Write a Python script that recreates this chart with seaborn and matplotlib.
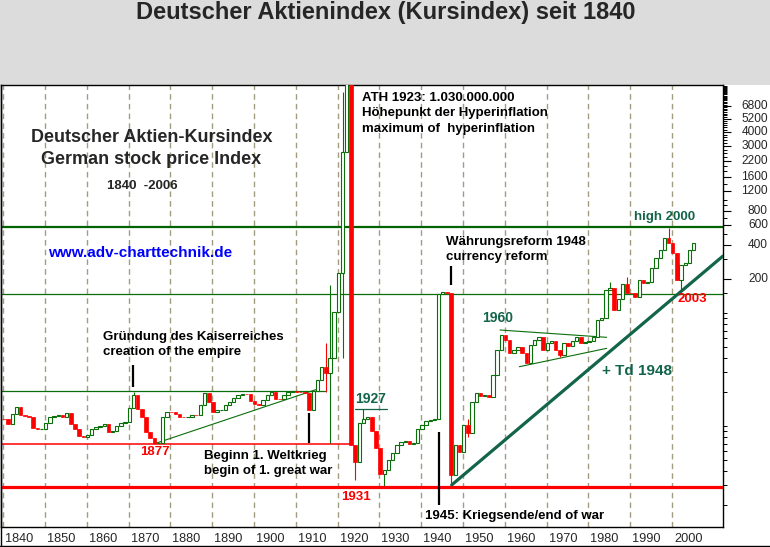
import matplotlib
matplotlib.use("Agg")
import numpy as np
import pandas as pd
import matplotlib.pyplot as plt
from matplotlib.transforms import ScaledTranslation
from matplotlib.patches import Rectangle
from matplotlib.lines import Line2D
from matplotlib.ticker import NullFormatter
import seaborn as sns

sns.set_style("white")
plt.rcParams['font.family'] = ['Liberation Sans', 'DejaVu Sans']

W, H, DPI = 770, 547, 100

# ---------------- data (annual candles, open = previous close) ----------------
years = list(range(1840, 2007))
first_open = 11.5
closes = [
    11.6, 11.5, 10.42, 12.77, 14.64, 12.52, 12.26, 12.09, 9.55, 9.41,        # 1840
    9.5, 10.70, 11.94, 12.26, 12.44, 12.09, 12.96, 10.42, 9.35, 8.16,        # 1850
    8.04, 8.33, 9.35, 9.86, 10.07, 10.42, 8.91, 9.09, 10.00, 10.57,          # 1860
    10.79, 14.35, 18.81, 14.06, 12.09, 8.91, 7.79, 7.03, 7.12, 12.09,        # 1870
    13.39, 13.3, 12.70, 12.09, 12.0, 12.1, 12.52, 12.5, 15.35, 19.48,        # 1880
    16.21, 13.39, 13.86, 13.9, 15.35, 16.41, 17.59, 18.81, 19.2, 19.1,       # 1890
    16.65, 15.57, 15.4, 16.99, 18.81, 20.12, 17.34, 17.3, 18.81, 20.12,      # 1900
    20.41, 20.1, 19.88, 19.48, 13.86, 20.41, 25.54, 33.49, 29.27, 39.74,     # 1910
    102.7, 224.6, 2676, 1.03e9, 6.79, 4.80, 10.70, 11.47, 12.09, 9.09,       # 1920
    6.35, 3.74, 4.08, 5.00, 5.80, 6.79, 7.27, 7.37, 7.00, 7.03,              # 1930
    9.35, 10.21, 11.15, 11.31, 11.47, 147.4, 153.5, 150.4, 3.69, 6.79,       # 1940
    5.89, 10.21, 8.62, 16.41, 19.48, 18.44, 18.81, 18.25, 28.27, 47.04,      # 1950
    63.9, 57.7, 44.0, 47.04, 50.34, 44.0, 35.89, 52.11, 57.7, 61.72,         # 1960
    47.04, 53.96, 56.88, 47.04, 42.51, 53.96, 51.06, 56.88, 61.72, 53.96,    # 1970
    55.41, 56.55, 61.34, 86.73, 89.78, 159.8, 165.4, 106.3, 132.3, 180.6,    # 1980
    151.3, 149.5, 139.5, 196.0, 183.2, 189.3, 250.1, 304.9, 361.1, 458.4,    # 1990
    414.0, 337.7, 196.0, 266.0, 275.3, 361.1, 419.1,                         # 2000
]
high_years = [1872, 1918, 1919, 1922, 1927, 1952, 1986, 1990, 2000]
high_values = [19.9, 54.3, 177, 9000, 14.1, 11.5, 189, 207, 570]
low_years = [1918, 1919, 1922, 1925, 1932, 1948, 1952, 1974, 2003]
low_values = [20.2, 7.08, 39.9, 3.33, 2.95, 3.13, 8.0, 40.8, 159.8]

y_tick_values = [200, 400, 600, 800, 1200, 1600, 2200, 3000, 4000, 5200, 6800]
x_tick_years = list(range(1840, 2001, 10))

# chart lines (x in years, y in index points)
level_low = 2.89
level_1948 = 147.4
level_high2000 = 577
support_1877_x, support_1877_y = [1839.45, 1922.94], [6.93, 6.93]
resist_x, resist_y = [1839.45, 1916.9], [20.4, 20.4]
rise_x, rise_y = [1876.3, 1915.3], [7.0, 21.3]
td_x, td_y = [1947.27, 2012.18], [3.01, 319.5]
flag_up_x, flag_up_y = [1958.83, 1984.35], [70.75, 60.97]
flag_lo_x, flag_lo_y = [1963.44, 1984.35], [33.49, 48.7]
l1927_x, l1927_y = [1924.14, 1931.87], [14.06, 14.06]
marker_x = [1871.0, 1913.1, 1944.23, 1947.1]
marker_lo = [22.1, 7.03, 2.0, 177]
marker_hi = [34.7, 12.96, 8.85, 260.6]

# ---------------- figure ----------------
GREEN = '#0a6e0a'
DKGREEN = '#006400'
RED = '#ff0000'
TEAL = '#12644a'
GRID = '#a29c80'
XMIN, XMAX = 1839.45, 2012.18
YMIN, YMAX = 1.278, 10422

fig = plt.figure(figsize=(W / DPI, H / DPI), dpi=DPI, facecolor='white')
fig.add_artist(Rectangle((0, 1 - 85 / H), 1, 85 / H, transform=fig.transFigure,
                         facecolor='#dcdcdc', edgecolor='none', zorder=-5))
ax = fig.add_axes([1 / W, 20 / H, 722 / W, 442 / H])
ax.set_facecolor('white')
ax.set_yscale('log')
ax.set_xlim(XMIN, XMAX)
ax.set_ylim(YMIN, YMAX)


def sline(xs, ys, color, lw, z, ls='-'):
    sns.lineplot(x=xs, y=ys, ax=ax, color=color, linewidth=lw, estimator=None,
                 sort=False, legend=False, zorder=z, linestyle=ls)


# dashed decade grid
for gx in x_tick_years:
    sline([gx, gx], [YMIN, YMAX], GRID, 1.0, 1, ls=(0, (4, 3)))

df = pd.DataFrame({'year': years, 'close': closes})
df['open'] = [first_open] + closes[:-1]
df['high'] = df[['open', 'close']].max(axis=1)
df['low'] = df[['open', 'close']].min(axis=1)
for yr, v in zip(high_years, high_values):
    m = df.year == yr
    df.loc[m, 'high'] = np.maximum(df.loc[m, 'high'], v)
for yr, v in zip(low_years, low_values):
    m = df.year == yr
    df.loc[m, 'low'] = np.minimum(df.loc[m, 'low'], v)
df['x'] = df.year - 0.85
up = df.close >= df.open

# reference lines
sline([XMIN, XMAX], [level_high2000] * 2, DKGREEN, 1.6, 1.5)
sline([XMIN, XMAX], [level_1948] * 2, GREEN, 0.9, 1.5)
sline(support_1877_x, support_1877_y, RED, 1.1, 1.5)
sline(resist_x, resist_y, GREEN, 0.9, 1.5)
sline(rise_x, rise_y, GREEN, 0.8, 1.5)
sline(flag_up_x, flag_up_y, GREEN, 0.8, 1.5)
sline(flag_lo_x, flag_lo_y, GREEN, 0.8, 1.5)
sline(l1927_x, l1927_y, TEAL, 0.9, 1.5)

# candles
ax.vlines(df.x[up], df.low[up], df.high[up], color=GREEN, lw=0.8, zorder=2)
ax.vlines(df.x[~up], df.low[~up], df.high[~up], color=RED, lw=0.8, zorder=2)
ax.bar(df.x[up], (df.close - df.open)[up], bottom=df.open[up], width=0.8,
       facecolor='white', edgecolor=GREEN, linewidth=0.8, zorder=3)
ax.bar(df.x[~up], (df.open - df.close)[~up], bottom=df.close[~up], width=0.85,
       facecolor=RED, edgecolor=RED, linewidth=0.5, zorder=3)

sline([XMIN, XMAX], [level_low] * 2, RED, 2.3, 4)
sline(td_x, td_y, TEAL, 2.3, 4)
ax.vlines(marker_x, marker_lo, marker_hi, color='black', lw=1.6, zorder=5)

ax.set_xlim(XMIN, XMAX)
ax.set_ylim(YMIN, YMAX)

# axes styling
for s in ax.spines.values():
    s.set_color('black')
    s.set_linewidth(1.0)
ax.set_xticks(x_tick_years, labels=[str(y) for y in x_tick_years])
ax.set_xticks([y for y in range(1841, 2007) if y % 10] + [2010], minor=True)
ax.tick_params(axis='x', which='major', length=13.7, width=0.8, pad=0,
               labelsize=9.2, direction='out', color='black')
ax.tick_params(axis='x', which='minor', length=3.4, width=0.7, direction='out',
               color='black')
ax.grid(False)

ax.yaxis.tick_right()
minor_y = ([v for v in range(1000, 10400, 200) if v not in y_tick_values] +
           [300, 500, 700, 900, 100, 150] +
           [k * 10 for k in range(1, 10)] + [k for k in range(2, 10)])
ax.set_yticks(y_tick_values, labels=[str(v) for v in y_tick_values])
ax.set_yticks(minor_y, minor=True)
ax.yaxis.set_minor_formatter(NullFormatter())
ax.tick_params(axis='y', which='major', length=5.8, width=0.8, pad=2,
               labelsize=8.6, direction='out', color='black')
ax.tick_params(axis='y', which='minor', length=3.2, width=0.7, direction='out',
               color='black')
ax.set_xlabel('')
ax.set_ylabel('')

# ---------------- texts (pixel positions) ----------------
def ftext(x, y, s, **kw):
    fig.text(x / W, 1 - y / H, s, va='center', **kw)

ftext(386, 12, 'Deutscher Aktienindex (Kursindex) seit 1840', ha='center',
      fontsize=17, fontweight='bold')
ftext(152, 138, 'Deutscher Aktien-Kursindex', ha='center', fontsize=13, fontweight='bold')
ftext(151, 159, 'German stock price Index', ha='center', fontsize=13, fontweight='bold')
ftext(142, 186, '1840  -2006', ha='center', fontsize=9.5, fontweight='bold')
ftext(140, 253, 'www.adv-charttechnik.de', ha='center', fontsize=11, fontweight='bold',
      color='#0000ff')
bk = dict(ha='left', fontsize=9.5, fontweight='bold', color='black')
ftext(362, 98, 'ATH 1923: 1.030.000.000', **bk)
ftext(362, 113, 'Höhepunkt der Hyperinflation', **bk)
ftext(362, 129, 'maximum of  hyperinflation', **bk)
ftext(446, 242, 'Währungsreform 1948', **bk)
ftext(446, 257, 'currency reform', **bk)
ftext(103, 337, 'Gründung des Kaiserreiches', **bk)
ftext(103, 352, 'creation of the empire', **bk)
ftext(204, 456, 'Beginn 1. Weltkrieg', **bk)
ftext(204, 471, 'begin of 1. great war', **bk)
ftext(425, 516, '1945: Kriegsende/end of war', **bk)
ftext(155, 452, '1877', ha='center', fontsize=9.5, fontweight='bold', color=RED)
ftext(356, 497, '1931', ha='center', fontsize=9.5, fontweight='bold', color=RED)
ftext(692, 299, '2003', ha='center', fontsize=9.5, fontweight='bold', color=RED)
ftext(371, 399, '1927', ha='center', fontsize=10, fontweight='bold', color=TEAL)
ftext(498, 318, '1960', ha='center', fontsize=10, fontweight='bold', color=TEAL)
ftext(665, 217, 'high 2000', ha='center', fontsize=9.5, fontweight='bold', color=TEAL)
ftext(602, 371, '+ Td 1948', ha='left', fontsize=11, fontweight='bold', color=TEAL)

# borders of the chart frame
fig.add_artist(Line2D([0, 1], [0.6 / H, 0.6 / H], transform=fig.transFigure,
                      color='black', lw=1.0))
fig.add_artist(Line2D([0.6 / W, 0.6 / W], [0, 1 - 85 / H], transform=fig.transFigure,
                      color='black', lw=1.0))

# tick label placement like the reference
offx = ScaledTranslation(2 / DPI, 7 / DPI, fig.dpi_scale_trans)
for lab in ax.get_xticklabels():
    lab.set_horizontalalignment('left')
    lab.set_verticalalignment('center')
    lab.set_transform(lab.get_transform() + offx)
offy = ScaledTranslation(34 / DPI, 0, fig.dpi_scale_trans)
for lab in ax.get_yticklabels():
    lab.set_horizontalalignment('right')
    lab.set_verticalalignment('center')
    lab.set_transform(lab.get_transform() + offy)

fig.savefig('out.png', dpi=DPI, facecolor=fig.get_facecolor())
